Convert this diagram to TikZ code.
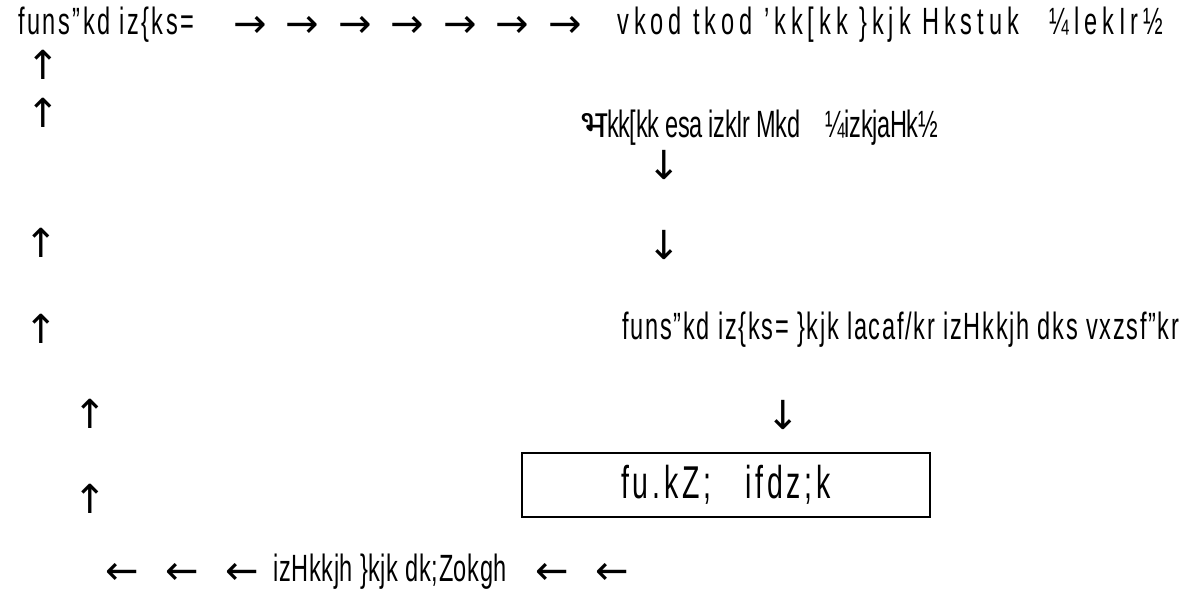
\documentclass[tikz,border=0pt]{standalone}
\usepackage{fontspec}
\setmainfont{Liberation Sans}[FakeStretch=0.62]
\newfontfamily\arrowfont{DejaVu Sans}
\newfontfamily\devfont[Script=Devanagari]{Noto Sans}
\usetikzlibrary{positioning}

\begin{document}
\begin{tikzpicture}
    [
        x=0.5pt, y=-0.5pt,
        txt/.style={anchor=west, inner sep=0pt, font=\fontsize{19}{22}\selectfont\addfontfeature{LetterSpace=#1}},
        txt/.default=0,
        arr/.style={inner sep=0pt, text height=13pt, text depth=0pt, font=\arrowfont\fontsize{20}{22}\selectfont},
        bbox/.style={draw, thick, minimum width=204pt, minimum height=32pt, font=\fontsize{23}{26}\selectfont\addfontfeature{LetterSpace=8}}
    ]
    \useasboundingbox (0,0) rectangle (1191,597);

    % Top row
    \node[txt=6.5] (top_src) at (18,25) {funs”kd iz\{ks=};
    \node[arr] (top_a1) at (250,25) {→};
    \node[arr, right of=top_a1, node distance=26.25pt] (top_a2) {→};
    \node[arr, right of=top_a2, node distance=26.25pt] (top_a3) {→};
    \node[arr, right of=top_a3, node distance=26.25pt] (top_a4) {→};
    \node[arr, right of=top_a4, node distance=26.25pt] (top_a5) {→};
    \node[arr, right of=top_a5, node distance=26.25pt] (top_a6) {→};
    \node[arr, right of=top_a6, node distance=26.25pt] (top_a7) {→};
    \node[txt=13] (top_end) at (617,25) {vkod tkod 'kk[kk \}kjk Hkstuk \enspace ¼lekIr½};

    % Left column going up
    \node[arr] (up_1) at (43,67) {↑};
    \node[arr] (up_2) at (43,115) {↑};
    \node[arr] (up_3) at (41,245) {↑};
    \node[arr] (up_4) at (41,331) {↑};
    \node[arr] (up_5) at (90,416) {↑};
    \node[arr] (up_6) at (90,501) {↑};

    % Right column going down
    \node[txt=-1] (recv) at (580,128) {{\devfont\bfseries भ}kk[kk esa izkIr Mkd \enspace ¼izkjaHk½};
    \node[arr] (down_1) at (664,167) {↓};
    \node[arr] (down_2) at (664,247) {↓};
    \node[txt=4.5] (fwd) at (622,330) {funs”kd iz\{ks= \}kjk lacaf/kr izHkkjh dks vxzsf"kr};
    \node[arr] (down_3) at (783,417) {↓};
    \node[bbox] (decide) at (726,485) {fu.kZ; \enspace ifdz;k};

    % Bottom row going left
    \node[arr] (bot_a1) at (122,572) {←};
    \node[arr, right of=bot_a1, node distance=30pt] (bot_a2) {←};
    \node[arr, right of=bot_a2, node distance=30pt] (bot_a3) {←};
    \node[txt=1.6] (action) at (273,572) {izHkkjh \}kjk dk;Zokgh};
    \node[arr] (bot_a4) at (552,572) {←};
    \node[arr, right of=bot_a4, node distance=30pt] (bot_a5) {←};
\end{tikzpicture}
\end{document}
